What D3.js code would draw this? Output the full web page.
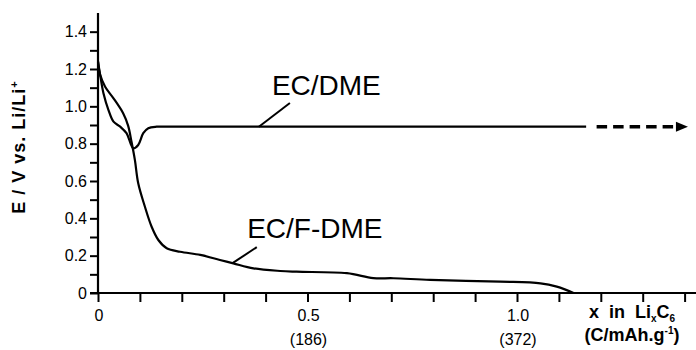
<!DOCTYPE html>
<html><head><meta charset="utf-8">
<script src="https://cdn.jsdelivr.net/npm/d3@7"></script>
<style>body{margin:0;background:#fff}svg{display:block}text{font-family:"Liberation Sans",Arial,sans-serif;fill:#000;white-space:pre}</style>
</head><body><svg id="c" width="696" height="350"></svg>
<script>
// EC/DME series
const dmeX = [0, 0.005, 0.013, 0.025, 0.037, 0.053, 0.068, 0.078, 0.084, 0.096, 0.108, 0.12, 0.14, 0.16, 0.2, 0.4, 0.7, 1.0, 1.165];
const dmeY = [1.24, 1.17, 1.07, 0.98, 0.918, 0.891, 0.856, 0.80, 0.775, 0.793, 0.856, 0.883, 0.891, 0.891, 0.891, 0.891, 0.891, 0.891, 0.891];
// EC/F-DME series
const fdmeX = [0, 0.005, 0.017, 0.037, 0.06, 0.072, 0.08, 0.088, 0.096, 0.112, 0.128, 0.144, 0.164, 0.196, 0.244, 0.291, 0.323, 0.371, 0.435, 0.474, 0.594, 0.657, 0.705, 0.793, 0.96, 1.056, 1.095, 1.135];
const fdmeY = [1.24, 1.17, 1.105, 1.043, 0.963, 0.895, 0.81, 0.713, 0.588, 0.462, 0.355, 0.284, 0.24, 0.221, 0.204, 0.177, 0.159, 0.132, 0.118, 0.114, 0.106, 0.08, 0.079, 0.07, 0.061, 0.052, 0.034, 0.0];
// continuation arrow for EC/DME
const arrowX = [1.19, 1.385];
const arrowTip = 1.408;
const arrowY = 0.891;
// ticks
const yTicks = [0,0.1,0.2,0.3,0.4,0.5,0.6,0.7,0.8,0.9,1.0,1.1,1.2,1.3,1.4];
const yTickLabels = {"0":"0","0.2":"0.2","0.4":"0.4","0.6":"0.6","0.8":"0.8","1":"1.0","1.2":"1.2","1.4":"1.4"};
const xTicks = [0,0.1,0.2,0.3,0.4,0.5,0.6,0.7,0.8,0.9,1.0,1.1,1.2,1.3,1.4];
const xTickLabels = {"0":["0",""],"0.5":["0.5","(186)"],"1":["1.0","(372)"]};
// annotations: [text, textX, textY, leaderX1, leaderY1, leaderX2, leaderY2]
const labels = [
  ["EC/DME", 0.415, 1.061, 0.384, 0.891, 0.458, 1.018],
  ["EC/F-DME", 0.356, 0.295, 0.322, 0.161, 0.379, 0.246]
];

const svg = d3.select("#c");
const x = d3.scaleLinear().domain([0, 1]).range([98, 517]);
const y = d3.scaleLinear().domain([0, 1.5]).range([293, 13]);

// y axis
const yAxis = d3.axisLeft(y).tickValues(yTicks).tickSize(8).tickPadding(4)
  .tickFormat(d => { const k = String(+d.toFixed(1)); return yTickLabels[k] || ""; });
const gy = svg.append("g").attr("transform", "translate(98,0)").call(yAxis);
gy.select(".domain").remove();
gy.selectAll("line").attr("stroke", "#000").attr("stroke-width", 2);
gy.selectAll("text").style("font-size", "16px").attr("x", -11);
svg.append("line").attr("x1", 98).attr("x2", 98).attr("y1", y(1.5)).attr("y2", y(0) + 1)
  .attr("stroke", "#000").attr("stroke-width", 2.2);

// x axis
const xAxis = d3.axisBottom(x).tickValues(xTicks).tickSize(9).tickFormat("");
const gx = svg.append("g").attr("transform", "translate(0,293)").call(xAxis);
gx.select(".domain").remove();
gx.selectAll("line").attr("stroke", "#000").attr("stroke-width", 2);
svg.append("line").attr("x1", 90).attr("x2", 696).attr("y1", 293).attr("y2", 293)
  .attr("stroke", "#000").attr("stroke-width", 2.2);
Object.keys(xTickLabels).forEach(k => {
  const [a, b] = xTickLabels[k];
  svg.append("text").attr("x", x(+k) + 1).attr("y", 321).attr("text-anchor", "middle").style("font-size", "16px").text(a);
  if (b) svg.append("text").attr("x", x(+k) + 1).attr("y", 345).attr("text-anchor", "middle").style("font-size", "16px").text(b);
});

// axis titles
const xt = svg.append("text").attr("x", 632).attr("y", 318).attr("text-anchor", "middle")
  .style("font-size", "18px").style("font-weight", "bold");
xt.append("tspan").text("x\u00a0\u00a0in\u00a0\u00a0Li");
xt.append("tspan").attr("dy", 4).style("font-size", "10px").text("x");
xt.append("tspan").attr("dy", -4).text("C");
xt.append("tspan").attr("dy", 4).style("font-size", "10px").text("6");
const xt2 = svg.append("text").attr("x", 632).attr("y", 341).attr("text-anchor", "middle")
  .style("font-size", "18px").style("font-weight", "bold");
xt2.append("tspan").text("(C/mAh.g");
xt2.append("tspan").attr("dy", -7).style("font-size", "10px").text("-1");
xt2.append("tspan").attr("dy", 7).text(")");

const yt = svg.append("text").attr("transform", "translate(25,147) rotate(-90)").attr("text-anchor", "middle")
  .style("font-size", "18px").style("font-weight", "bold").style("letter-spacing", "1px");
yt.append("tspan").text("E / V vs. Li/Li");
yt.append("tspan").attr("dy", -7).style("font-size", "11px").text("+");

// curves
const line = d3.line().x(d => x(d[0])).y(d => y(d[1])).curve(d3.curveCatmullRom.alpha(0.5));
svg.append("path").datum(dmeX.map((v, i) => [v, dmeY[i]])).attr("d", line)
  .attr("fill", "none").attr("stroke", "#000").attr("stroke-width", 2.2);
svg.append("path").datum(fdmeX.map((v, i) => [v, fdmeY[i]])).attr("d", line)
  .attr("fill", "none").attr("stroke", "#000").attr("stroke-width", 2.2);

// dashed arrow
svg.append("line").attr("x1", x(arrowX[0])).attr("x2", x(arrowX[1])).attr("y1", y(arrowY)).attr("y2", y(arrowY))
  .attr("stroke", "#000").attr("stroke-width", 3.5).attr("stroke-dasharray", "10.5,6");
svg.append("path").attr("d", `M${x(arrowTip)},${y(arrowY)} L${x(arrowTip) - 12},${y(arrowY) - 5} L${x(arrowTip) - 12},${y(arrowY) + 5} Z`)
  .attr("fill", "#000");

// annotations
labels.forEach(l => {
  svg.append("line").attr("x1", x(l[3])).attr("y1", y(l[4])).attr("x2", x(l[5])).attr("y2", y(l[6]))
    .attr("stroke", "#000").attr("stroke-width", 2);
  svg.append("text").attr("x", x(l[1])).attr("y", y(l[2])).style("font-size", "28px").text(l[0]);
});
</script></body></html>
